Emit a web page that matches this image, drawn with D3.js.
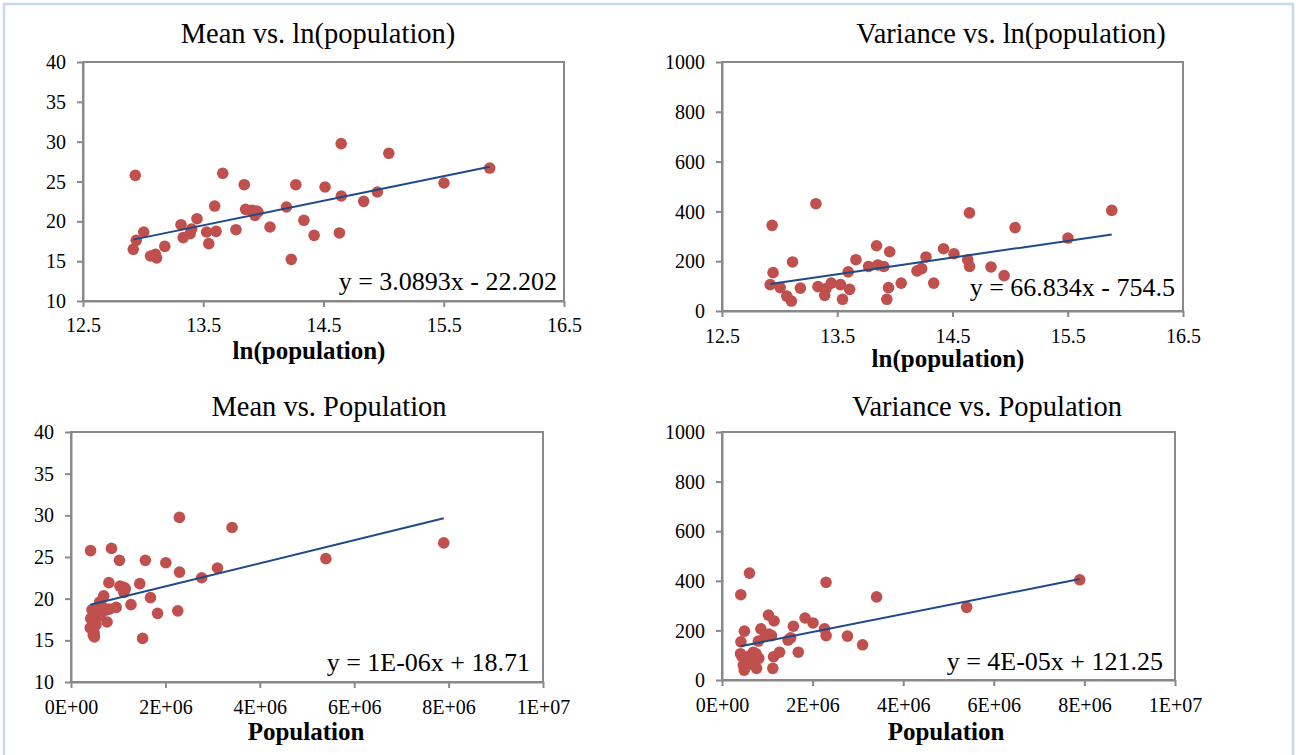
<!DOCTYPE html>
<html>
<head>
<meta charset="utf-8">
<script src="https://cdn.jsdelivr.net/npm/d3@7"></script>
<style>
  body { margin: 0; background: #fff; }
  svg text { font-family: "Liberation Serif", "Times New Roman", serif; }
</style>
</head>
<body>
<div id="chart"></div>
<script>
// city data: ln(population), mean and variance
const lnPop = [12.918, 12.935, 12.943, 13.005, 13.062, 13.102, 13.112, 13.180, 13.315, 13.333,
               13.391, 13.403, 13.448, 13.528, 13.546, 13.595, 13.607, 13.662, 13.772, 13.841,
               13.852, 13.904, 13.930, 13.945, 13.955, 14.055, 14.192, 14.232, 14.270, 14.337,
               14.422, 14.513, 14.632, 14.647, 14.648, 14.834, 14.948, 15.043, 15.502, 15.882];
const meanVals = [16.49, 25.77, 17.62, 18.66, 15.65, 15.86, 15.40, 16.86, 19.58, 17.95,
                  18.45, 19.04, 20.33, 18.66, 17.20, 21.92, 18.74, 26.03, 18.95, 24.60,
                  21.51, 21.38, 20.75, 21.30, 21.17, 19.29, 21.80, 15.23, 24.60, 20.13,
                  18.24, 24.31, 18.54, 29.75, 23.18, 22.51, 23.68, 28.54, 24.81, 26.69];
const varVals = [106, 344, 154, 94, 60, 40, 197, 92, 431, 98,
                 63, 90, 112, 106, 47, 157, 87, 206, 179, 262,
                 185, 179, 47, 94, 238, 112, 161, 170, 217, 112,
                 250, 230, 206, 394, 179, 177, 142, 335, 293, 404];
const population = lnPop.map(Math.exp);

// panel texts and trendlines, in order: top-left, top-right, bottom-left, bottom-right
const titles = ["Mean vs. ln(population)", "Variance vs. ln(population)", "Mean vs. Population", "Variance vs. Population"];
const xTitles = ["ln(population)", "ln(population)", "Population", "Population"];
const equations = ["y = 3.0893x - 22.202", "y = 66.834x - 754.5", "y = 1E-06x + 18.71", "y = 4E-05x + 121.25"];
const trendSlope = [3.0893, 66.834, 1.385e-6, 3.62e-5];
const trendIntercept = [-22.202, -754.5, 18.71, 121.25];

const lnTicks = [12.5, 13.5, 14.5, 15.5, 16.5];
const popTicks = [0, 2e6, 4e6, 6e6, 8e6, 1e7];
const meanTicks = [10, 15, 20, 25, 30, 35, 40];
const varTicks = [0, 200, 400, 600, 800, 1000];

const width = 1296, height = 755;
const markColor = "#c0504d", lineColor = "#1f4a87", axisColor = "#898989";
const serif = '"Liberation Serif", "Times New Roman", serif';

const popFormat = d => {
  if (d === 0) return "0E+00";
  const e = Math.floor(Math.log10(d));
  return Math.round(d / 10 ** e) + "E+" + String(e).padStart(2, "0");
};

// plot area boxes and text positions
const panels = [
  {xs: lnPop, ys: meanVals, xd: [12.5, 16.5], yd: [10, 40], xt: lnTicks, yt: meanTicks, fmt: d => d,
   box: [83, 62, 564, 301], titleX: 318, titleY: 43, xtY: 359, xtX: 309, eqX: 557, eqY: 290, labY: 332},
  {xs: lnPop, ys: varVals, xd: [12.5, 16.5], yd: [0, 1000], xt: lnTicks, yt: varTicks, fmt: d => d,
   box: [722, 62, 1183, 311], titleX: 1011, titleY: 43, xtY: 367, xtX: 948, eqX: 1175, eqY: 296, labY: 343},
  {xs: population, ys: meanVals, xd: [0, 1e7], yd: [10, 40], xt: popTicks, yt: meanTicks, fmt: popFormat,
   box: [71, 432, 543, 682], titleX: 329, titleY: 416, xtY: 740, xtX: 306, eqX: 530, eqY: 671, labY: 714},
  {xs: population, ys: varVals, xd: [0, 1e7], yd: [0, 1000], xt: popTicks, yt: varTicks, fmt: popFormat,
   box: [722, 432, 1175, 680], titleX: 987, titleY: 416, xtY: 740, xtX: 946, eqX: 1163, eqY: 670, labY: 712}
];

const svg = d3.select("#chart")
  .append("svg")
    .attr("width", width)
    .attr("height", height);

// outer frame
svg.append("rect")
    .attr("x", 4).attr("y", 4)
    .attr("width", width - 7).attr("height", height + 20)
    .attr("fill", "none")
    .attr("stroke", "#c6d7ee")
    .attr("stroke-width", 2.5);

panels.forEach((p, i) => {
  const [x0, y0, x1, y1] = p.box;
  const x = d3.scaleLinear().domain(p.xd).range([x0, x1]);
  const y = d3.scaleLinear().domain(p.yd).range([y1, y0]);
  const g = svg.append("g");

  // plot area border
  g.append("rect")
      .attr("x", x0).attr("y", y0)
      .attr("width", x1 - x0).attr("height", y1 - y0)
      .attr("fill", "none")
      .attr("stroke", axisColor)
      .attr("stroke-width", 2);

  const yAxis = g.append("g")
      .attr("transform", `translate(${x0},0)`)
      .call(d3.axisLeft(y).tickValues(p.yt).tickFormat(d => d).tickSize(6).tickPadding(11).tickSizeOuter(0));
  const xAxis = g.append("g")
      .attr("transform", `translate(0,${y1})`)
      .call(d3.axisBottom(x).tickValues(p.xt).tickFormat(p.fmt).tickSize(6).tickPadding(0).tickSizeOuter(0));

  [yAxis, xAxis].forEach(a => {
    a.attr("font-family", null).attr("font-size", null);
    a.select(".domain").attr("stroke", axisColor).attr("stroke-width", 2);
    a.selectAll(".tick line").attr("stroke", axisColor).attr("stroke-width", 2);
    a.selectAll("text")
      .style("font-family", serif)
      .style("font-size", "20px")
      .attr("fill", "#000");
  });
  yAxis.selectAll("text").attr("dy", "0.33em");
  xAxis.selectAll("text").attr("dy", null).attr("y", p.labY - y1);

  // points
  g.selectAll("circle")
    .data(p.xs.map((v, k) => [v, p.ys[k]]))
    .enter()
    .append("circle")
      .attr("cx", d => x(d[0]))
      .attr("cy", d => y(d[1]))
      .attr("r", 5.8)
      .attr("fill", markColor);

  // linear trendline over the data range
  const xMin = d3.min(p.xs), xMax = d3.max(p.xs);
  g.append("line")
      .attr("x1", x(xMin)).attr("y1", y(trendSlope[i] * xMin + trendIntercept[i]))
      .attr("x2", x(xMax)).attr("y2", y(trendSlope[i] * xMax + trendIntercept[i]))
      .attr("stroke", lineColor)
      .attr("stroke-width", 2);

  g.append("text")
      .attr("x", p.eqX).attr("y", p.eqY)
      .attr("text-anchor", "end")
      .style("font-size", "26px")
      .text(equations[i]);

  g.append("text")
      .attr("x", p.titleX).attr("y", p.titleY)
      .attr("text-anchor", "middle")
      .style("font-size", "28.5px")
      .text(titles[i]);

  g.append("text")
      .attr("x", p.xtX).attr("y", p.xtY)
      .attr("text-anchor", "middle")
      .style("font-family", serif)
      .style("font-size", "25px")
      .style("font-weight", "bold")
      .text(xTitles[i]);
});
</script>
</body>
</html>
